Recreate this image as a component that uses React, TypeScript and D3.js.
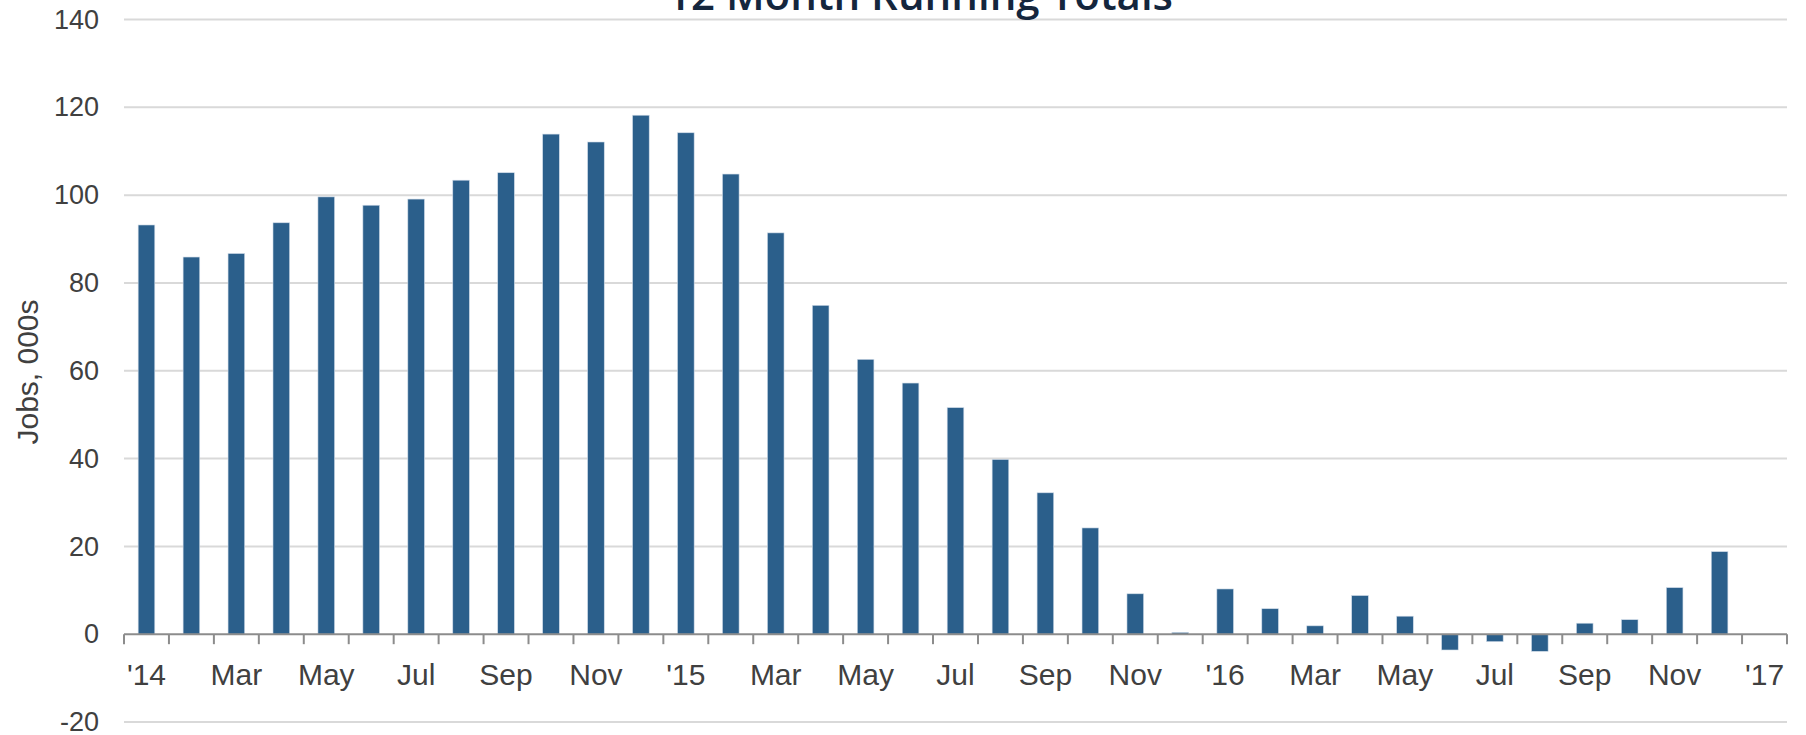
import { useEffect, useRef } from "react";
import * as d3 from "d3";

// months Jan '14 .. Jan '17 (last slot has no bar)
const months = [
  "Jan14", "Feb14", "Mar14", "Apr14", "May14", "Jun14", "Jul14", "Aug14", "Sep14", "Oct14", "Nov14", "Dec14",
  "Jan15", "Feb15", "Mar15", "Apr15", "May15", "Jun15", "Jul15", "Aug15", "Sep15", "Oct15", "Nov15", "Dec15",
  "Jan16", "Feb16", "Mar16", "Apr16", "May16", "Jun16", "Jul16", "Aug16", "Sep16", "Oct16", "Nov16", "Dec16",
  "Jan17",
];
const tickLabels = [
  "'14", "", "Mar", "", "May", "", "Jul", "", "Sep", "", "Nov", "",
  "'15", "", "Mar", "", "May", "", "Jul", "", "Sep", "", "Nov", "",
  "'16", "", "Mar", "", "May", "", "Jul", "", "Sep", "", "Nov", "",
  "'17",
];
const jobs = [
  93.2, 85.9, 86.7, 93.7, 99.6, 97.7, 99.1, 103.4, 105.1, 113.9, 112.1, 118.2,
  114.2, 104.8, 91.4, 74.9, 62.6, 57.2, 51.6, 39.8, 32.2, 24.2, 9.2, 0.4,
  10.3, 5.8, 1.9, 8.8, 4.1, -3.6, -1.7, -3.9, 2.5, 3.3, 10.6, 18.8,
];
const yTicks = [-20, 0, 20, 40, 60, 80, 100, 120, 140];

const App = () => {
  const chartRef = useRef(null);

  useEffect(() => {
    if (!chartRef.current) return;
    const svg = d3.select(chartRef.current);
    svg.selectAll("*").remove();

    const width = 1806;
    const height = 735;
    const left = 124;
    const right = 1787;

    const x = d3
      .scaleBand()
      .domain(months)
      .range([left, right])
      .paddingInner(0.63)
      .paddingOuter(0.315);
    const step = x.step();
    const y = d3.scaleLinear().domain([-20, 140]).range([722, 19.5]);

    svg.attr("viewBox", [0, 0, width, height] as any);

    // gridlines
    svg
      .append("g")
      .selectAll("line")
      .data(yTicks.filter((d) => d !== 0))
      .join("line")
      .attr("x1", left)
      .attr("x2", right)
      .attr("y1", (d) => y(d))
      .attr("y2", (d) => y(d))
      .attr("stroke", "#d9d9d9")
      .attr("stroke-width", 2);

    // y tick labels (plain hyphen for negatives)
    svg
      .append("g")
      .attr("transform", `translate(${left - 25},0)`)
      .call(
        d3
          .axisLeft(y)
          .tickValues(yTicks)
          .tickSize(0)
          .tickPadding(0)
          .tickFormat((d: any) => String(d))
      )
      .call((g: any) => g.select(".domain").remove())
      .call((g: any) =>
        g
          .selectAll("text")
          .attr("font-family", "'Liberation Sans', Arial, sans-serif")
          .attr("font-size", 27)
          .attr("fill", "#404040")
      );

    // bars
    svg
      .append("g")
      .selectAll("rect")
      .data(jobs)
      .join("rect")
      .attr("x", (_, i) => x(months[i]) as number)
      .attr("width", x.bandwidth())
      .attr("y", (d) => y(Math.max(0, d)))
      .attr("height", (d) => Math.abs(y(d) - y(0)))
      .attr("fill", "#2b5f8b")
      .attr("stroke", "#cfdbe8")
      .attr("stroke-width", 0.6);

    // x axis line + ticks at band edges
    const gx = svg.append("g");
    gx.append("line")
      .attr("x1", left)
      .attr("x2", right)
      .attr("y1", y(0))
      .attr("y2", y(0))
      .attr("stroke", "#8c8c8c")
      .attr("stroke-width", 2);
    gx.selectAll(".tk")
      .data(d3.range(months.length + 1))
      .join("line")
      .attr("class", "tk")
      .attr("x1", (i) => left + i * step)
      .attr("x2", (i) => left + i * step)
      .attr("y1", y(0))
      .attr("y2", y(0) + 10)
      .attr("stroke", "#8c8c8c")
      .attr("stroke-width", 2);
    gx.selectAll(".lbl")
      .data(months)
      .join("text")
      .attr("class", "lbl")
      .attr("x", (d) => (x(d) as number) + x.bandwidth() / 2)
      .attr("y", 685)
      .attr("text-anchor", "middle")
      .attr("font-family", "'Liberation Sans', Arial, sans-serif")
      .attr("font-size", 30)
      .attr("fill", "#404040")
      .text((_, i) => tickLabels[i]);

    // y axis title
    svg
      .append("text")
      .attr("transform", "translate(38,372) rotate(-90)")
      .attr("text-anchor", "middle")
      .attr("font-family", "'Liberation Sans', Arial, sans-serif")
      .attr("font-size", 30)
      .attr("fill", "#404040")
      .text("Jobs, 000s");

    // title, clipped at the top edge like the source
    svg
      .append("text")
      .attr("x", 920)
      .attr("y", 10)
      .attr("text-anchor", "middle")
      .attr("font-family", "'Open Sans', sans-serif")
      .attr("font-weight", 600)
      .attr("font-size", 42)
      .attr("fill", "#14263d")
      .text("12 Month Running Totals");
  }, []);

  return (
    <svg
      ref={chartRef}
      width={1806}
      height={735}
      style={{ position: "absolute", left: 0, top: 0, background: "#fff" }}
    ></svg>
  );
};

export default App;
